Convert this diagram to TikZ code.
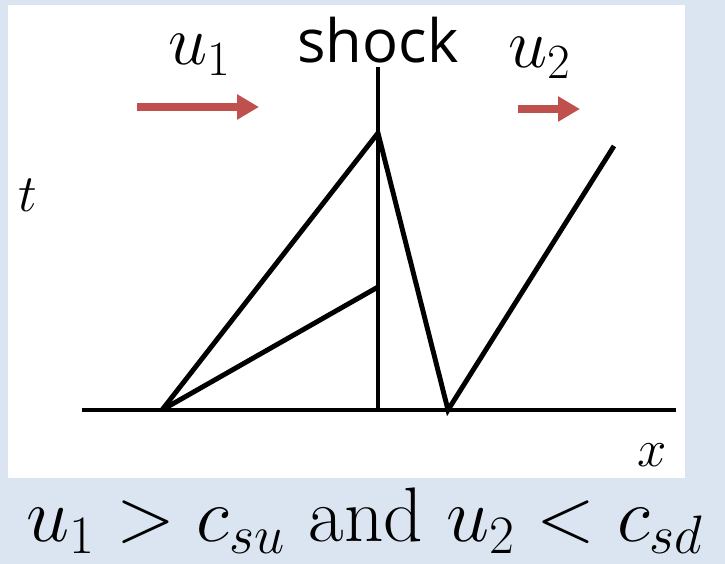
\documentclass[tikz,border=0pt]{standalone}
\usepackage{fix-cm}
\usepackage{fontspec}
\setsansfont{Open Sans}
\usepackage{xcolor}
\usetikzlibrary{arrows.meta}
\definecolor{slidebg}{HTML}{DBE5F1}
\definecolor{flowred}{HTML}{C0504D}

\begin{document}
\begin{tikzpicture}[
  x=0.02cm, y=-0.02cm,
  wave/.style={line width=2.8pt},
  flow/.style={draw=flowred, line width=4pt,
               -{Triangle[length=4.4mm, width=4.8mm]}},
  big/.style={font=\fontsize{40}{40}\selectfont, inner sep=0pt},
  axlab/.style={font=\fontsize{30}{30}\selectfont, inner sep=0pt}
]
% background and white panel
\fill[slidebg] (0,0) rectangle (725,564);
\fill[white] (8,5) rectangle (685,478);
\useasboundingbox (0,0) rectangle (725,564);

% points of the x-t plane
\coordinate (xl) at (82,410);
\coordinate (xr) at (676,410);
\coordinate (sbot) at (378,410);
\coordinate (stop) at (378,67);
\coordinate (apex) at (378,133);
\coordinate (mid) at (378,287);
\coordinate (lfoot) at (162,410);
\coordinate (rfoot) at (448,410);
\coordinate (rtop) at (614,146);

\draw[wave] (xl) -- (xr);
\draw[wave] (sbot) -- (stop);
\draw[wave] (lfoot) -- (apex) -- (rfoot) -- (rtop);
\draw[wave] (lfoot) -- (mid);

% labels
\node[big] (u1) at (200,55) {$u_1$};
\node[big] (u2) at (540,58) {$u_2$};
\node[font=\sffamily\fontsize{34}{34}\selectfont, inner sep=0pt] (shock) at (378,40) {shock};
\node[axlab] (tlab) at (28,195) {$t$};
\node[axlab] (xlab) at (652,455) {$x$};
\node[big, font=\fontsize{44}{44}\selectfont, anchor=base west] (cond) at (26,542)
  {$u_1 > c_{su}$ and $u_2 < c_{sd}$};

% flow arrows
\coordinate (a1s) at (137,107);
\coordinate (a1e) at (259,107);
\coordinate (a2s) at (518,109);
\coordinate (a2e) at (580,109);
\draw[flow] (a1s) -- (a1e);
\draw[flow] (a2s) -- (a2e);
\end{tikzpicture}
\end{document}
